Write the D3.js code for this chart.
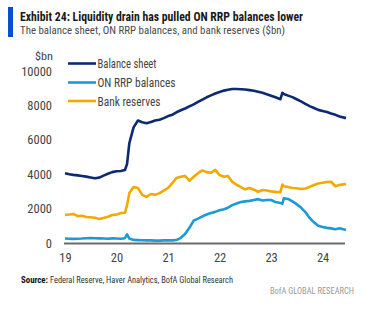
<!DOCTYPE html>
<html><head><meta charset="utf-8">
<script src="https://cdn.jsdelivr.net/npm/d3@7/dist/d3.min.js"></script>
<style>
html,body{margin:0;padding:0;background:#fff;}
svg{display:block;}
text{font-family:"Liberation Sans Narrow","Roboto Condensed","DejaVu Sans Condensed","Liberation Sans",sans-serif;}
</style></head>
<body>
<svg id="chart" width="384" height="329"></svg>
<script>
const title = "Exhibit 24: Liquidity drain has pulled ON RRP balances lower";
const subtitle = "The balance sheet, ON RRP balances, and bank reserves ($bn)";
const unitLabel = "$bn";
const seriesNames = ["Balance sheet", "ON RRP balances", "Bank reserves"];
const seriesColors = ["#0b2a72", "#1a9bd7", "#f2a900"];
const yTicks = [0, 2000, 4000, 6000, 8000, 10000];
const xTickYears = [2019, 2020, 2021, 2022, 2023, 2024];
const xTickLabels = ["19", "20", "21", "22", "23", "24"];

const dates = [
 "2019-01-01","2019-02-01","2019-03-01","2019-04-01","2019-05-01","2019-06-01","2019-07-01","2019-08-01","2019-09-01","2019-10-01","2019-11-01","2019-12-01",
 "2020-01-01","2020-02-01","2020-03-01","2020-03-16","2020-04-01","2020-05-01","2020-06-01","2020-07-01","2020-08-01","2020-09-01","2020-10-01","2020-11-01","2020-12-01",
 "2021-01-01","2021-02-01","2021-03-01","2021-04-01","2021-05-01","2021-06-01","2021-07-01","2021-08-01","2021-09-01","2021-10-01","2021-11-01","2021-12-01",
 "2022-01-01","2022-02-01","2022-03-01","2022-04-01","2022-05-01","2022-06-01","2022-07-01","2022-08-01","2022-09-01","2022-10-01","2022-11-01","2022-12-01",
 "2023-01-01","2023-02-01","2023-03-08","2023-03-22","2023-04-01","2023-05-01","2023-06-01","2023-07-01","2023-08-01","2023-09-01","2023-10-01","2023-11-01","2023-12-01",
 "2024-01-01","2024-02-01","2024-03-01","2024-04-01","2024-05-01","2024-06-15"
];
const balanceSheet = [
 4060,4000,3960,3930,3900,3860,3810,3760,3800,3920,4030,4120,
 4170,4190,4240,4600,5800,6720,7120,7020,6960,7030,7120,7170,7260,
 7380,7460,7600,7720,7820,7940,8060,8200,8340,8470,8580,8690,
 8780,8860,8910,8950,8950,8940,8920,8890,8850,8790,8730,8650,
 8560,8470,8360,8730,8660,8570,8480,8360,8230,8090,7960,7850,7740,
 7680,7620,7530,7450,7360,7260
];
const onRrp = [
 260,250,240,250,260,280,290,280,270,260,250,270,
 260,250,280,500,260,180,170,160,150,150,140,140,150,
 150,150,170,300,520,880,1300,1420,1550,1660,1750,1810,
 1900,1960,2050,2200,2300,2380,2420,2450,2500,2550,2470,2500,
 2500,2380,2330,2280,2600,2560,2420,2260,2060,1800,1460,1200,1000,
 930,880,850,800,860,760
];
const bankReserves = [
 1640,1660,1690,1560,1580,1510,1500,1470,1400,1460,1530,1630,
 1650,1740,1760,2200,2900,3250,3200,2800,2680,2850,2800,2900,3050,
 3200,3500,3780,3850,3900,3620,3850,4060,4220,4120,4080,4250,
 3950,3850,3900,3550,3400,3250,3120,3200,3100,2980,3080,3050,
 3000,2970,2950,3400,3300,3250,3200,3180,3140,3170,3260,3370,3460,
 3500,3550,3560,3300,3380,3430
];

const svg = d3.select("#chart");
const parse = d3.timeParse("%Y-%m-%d");
const dt = dates.map(parse);

const x = d3.scaleTime()
  .domain([new Date(2019,0,1), new Date(2024,5,15)])
  .range([65, 346]);
const y = d3.scaleLinear().domain([0, 10000]).range([243, 71]);

// header
svg.append("rect").attr("x", 8).attr("y", 7).attr("width", 5).attr("height", 30).attr("fill", "#0b4fd1");
svg.append("text").attr("x", 20).attr("y", 20.5).attr("font-size", 12).attr("font-weight", "bold")
  .attr("fill", "#1a1a1a").attr("textLength", 283).attr("lengthAdjust", "spacingAndGlyphs").text(title);
svg.append("text").attr("x", 20).attr("y", 33.5).attr("font-size", 11.5)
  .attr("fill", "#4a4a4a").attr("textLength", 265).attr("lengthAdjust", "spacingAndGlyphs").text(subtitle);

// y axis labels
svg.append("text").attr("x", 35).attr("y", 60).attr("font-size", 11.5).attr("fill", "#444")
  .attr("textLength", 18).attr("lengthAdjust", "spacingAndGlyphs").text(unitLabel);
const yAxis = d3.axisLeft(y).tickValues(yTicks).tickSize(0).tickPadding(0).tickFormat(d3.format("d"));
const gy = svg.append("g").attr("transform", "translate(52,0)").call(yAxis);
gy.select(".domain").remove();
gy.selectAll("text").attr("font-size", 12.5).attr("fill", "#444").attr("font-family", null);

// x axis
const xAxis = d3.axisBottom(x).tickValues(xTickYears.map(yr => new Date(yr,0,1)))
  .tickSize(0).tickPadding(0).tickFormat((d,i) => xTickLabels[i]);
const gx = svg.append("g").attr("transform", "translate(0,253)").call(xAxis);
gx.select(".domain").remove();
gx.selectAll("text").attr("font-size", 12.5).attr("fill", "#444").attr("font-family", null);

// series
const seriesData = [balanceSheet, onRrp, bankReserves];
const line = d3.line().x((d,i) => x(dt[i])).y(d => y(d));
[2,1,0].forEach(k => {
  svg.append("path").datum(seriesData[k]).attr("d", line)
    .attr("fill", "none").attr("stroke", seriesColors[k]).attr("stroke-width", 2.6)
    .attr("stroke-linejoin", "round");
});

// baseline
svg.append("line").attr("x1", 64).attr("x2", 345).attr("y1", y(0)+0.5).attr("y2", y(0)+0.5)
  .attr("stroke", "#6b6b6b").attr("stroke-width", 2);

// legend
const legY = [63.5, 82.5, 101];
const legW = [59, 78, 63];
seriesNames.forEach((n,i) => {
  svg.append("line").attr("x1", 68).attr("x2", 96).attr("y1", legY[i]).attr("y2", legY[i])
    .attr("stroke", seriesColors[i]).attr("stroke-width", 2.6);
  svg.append("text").attr("x", 97.5).attr("y", legY[i] + 4.5).attr("font-size", 12.5).attr("fill", "#444")
    .attr("textLength", legW[i]).attr("lengthAdjust", "spacingAndGlyphs").text(n);
});

// source
svg.append("text").attr("x", 21).attr("y", 283).attr("font-size", 9.5).attr("font-weight", "bold")
  .attr("fill", "#111").attr("textLength", 27).attr("lengthAdjust", "spacingAndGlyphs").text("Source:");
svg.append("text").attr("x", 50).attr("y", 283).attr("font-size", 9.5).attr("fill", "#333")
  .attr("textLength", 183).attr("lengthAdjust", "spacingAndGlyphs")
  .text("Federal Reserve, Haver Analytics, BofA Global Research");

svg.append("text").attr("x", 270).attr("y", 294).attr("font-size", 9.5).attr("fill", "#9a9a9a")
  .attr("textLength", 84).attr("lengthAdjust", "spacingAndGlyphs").text("BofA GLOBAL RESEARCH");
</script>
</body></html>
